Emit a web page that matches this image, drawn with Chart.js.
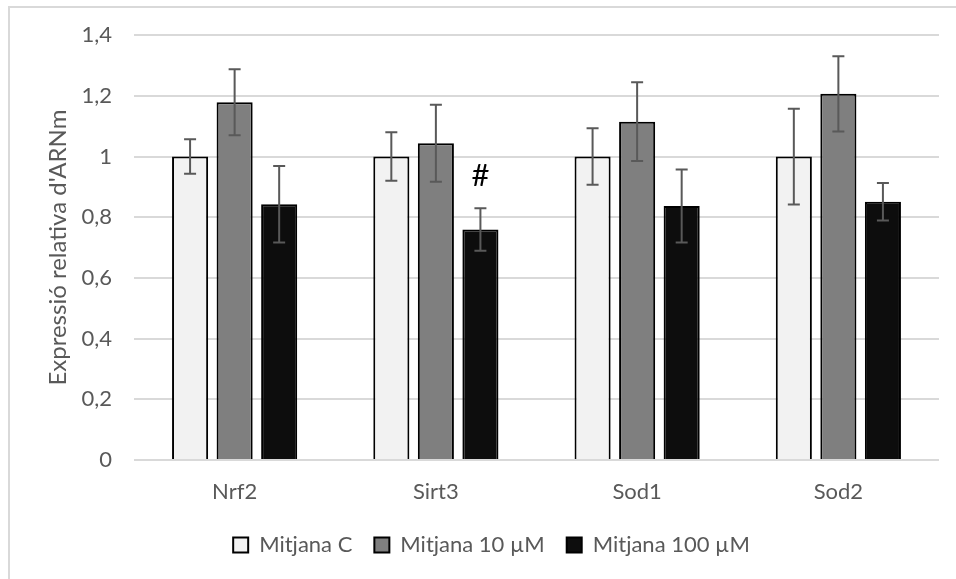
<!DOCTYPE html>
<html lang="ca">
<head>
  <meta charset="UTF-8" />
  <title>Expressió relativa d'ARNm</title>
  <script src="https://cdn.jsdelivr.net/npm/chart.js"></script>
  <style>
    html, body {
      margin: 0;
      padding: 0;
      background: #fff;
      overflow: hidden;
    }
    .frame {
      position: absolute;
      left: 8px;
      top: 6px;
      width: 980px;
      height: 600px;
      border: 2px solid #d9d9d9;
    }
    .wrap {
      position: absolute;
      left: 0;
      top: 0;
      width: 956px;
      height: 579px;
    }
  </style>
</head>
<body>
  <div class="frame"></div>
  <div class="wrap"><canvas id="geneChart" width="956" height="579"></canvas></div>

  <script>
    const genes = ['Nrf2', 'Sirt3', 'Sod1', 'Sod2'];
    const seriesNames = ['Mitjana C', 'Mitjana 10 µM', 'Mitjana 100 µM'];
    const meanC = [1.0, 1.0, 1.0, 1.0];
    const mean10 = [1.179, 1.044, 1.115, 1.207];
    const mean100 = [0.843, 0.760, 0.837, 0.851];
    const errC = [0.057, 0.080, 0.093, 0.158];
    const err10 = [0.109, 0.127, 0.130, 0.124];
    const err100 = [0.126, 0.070, 0.120, 0.062];
    const marks100 = ['', '#', '', ''];
    const yTickLabels = ['0', '0,2', '0,4', '0,6', '0,8', '1', '1,2', '1,4'];

    const FONT = 'Lato, "Liberation Sans", sans-serif';
    const TEXT = '#595959';

    // error bars + significance marks, placed through the chart's own scales
    const errorBars = {
      id: 'errorBars',
      afterDatasetsDraw(chart) {
        const { ctx, scales: { y } } = chart;
        ctx.save();
        chart.data.datasets.forEach((ds, di) => {
          const meta = chart.getDatasetMeta(di);
          meta.data.forEach((bar, i) => {
            const v = ds.data[i], e = ds.errors[i];
            const top = y.getPixelForValue(v + e);
            const bot = y.getPixelForValue(v - e);
            ctx.strokeStyle = '#595959';
            ctx.lineWidth = 2;
            ctx.beginPath();
            ctx.moveTo(bar.x, top); ctx.lineTo(bar.x, bot);
            ctx.moveTo(bar.x - 6, top); ctx.lineTo(bar.x + 6, top);
            ctx.moveTo(bar.x - 6, bot); ctx.lineTo(bar.x + 6, bot);
            ctx.stroke();
            if (ds.marks && ds.marks[i]) {
              ctx.fillStyle = '#000';
              ctx.font = '31px ' + FONT;
              ctx.textAlign = 'center';
              ctx.textBaseline = 'middle';
              ctx.fillText(ds.marks[i], bar.x, top - 32);
            }
          });
        });
        ctx.restore();
      }
    };

    new Chart(document.getElementById('geneChart'), {
      type: 'bar',
      data: {
        labels: genes,
        datasets: [
          { label: seriesNames[0], data: meanC, errors: errC, backgroundColor: '#f2f2f2' },
          { label: seriesNames[1], data: mean10, errors: err10, backgroundColor: '#7f7f7f' },
          { label: seriesNames[2], data: mean100, errors: err100, marks: marks100, backgroundColor: '#0d0d0d' }
        ].map(d => Object.assign(d, {
          borderColor: '#000',
          borderWidth: 2,
          categoryPercentage: 0.664,
          barPercentage: 0.81
        }))
      },
      options: {
        responsive: false,
        animation: false,
        layout: { padding: { left: 44, top: 34, right: 17, bottom: 13 } },
        scales: {
          x: {
            grid: { display: false, drawTicks: false },
            border: { display: false },
            ticks: { color: TEXT, font: { family: FONT, size: 22 }, padding: 19 },
            afterFit: s => { s.height = 52; }
          },
          y: {
            min: 0,
            max: 1.4,
            ticks: {
              stepSize: 0.2,
              color: TEXT,
              padding: 22,
              font: { family: FONT, size: 22 },
              callback: (v, i) => yTickLabels[i]
            },
            grid: { color: '#d9d9d9', lineWidth: 2, drawTicks: false },
            border: { display: false },
            title: {
              display: true,
              text: "Expressió relativa d'ARNm",
              color: TEXT,
              font: { family: FONT, size: 24 },
              padding: 0
            },
            afterFit: s => { s.width = 90; }
          }
        },
        plugins: {
          legend: {
            position: 'bottom',
            labels: {
              color: TEXT,
              font: { family: FONT, size: 22 },
              boxWidth: 15,
              boxHeight: 15,
              padding: 22
            }
          },
          tooltip: { enabled: false }
        }
      },
      plugins: [errorBars]
    });
  </script>
</body>
</html>
